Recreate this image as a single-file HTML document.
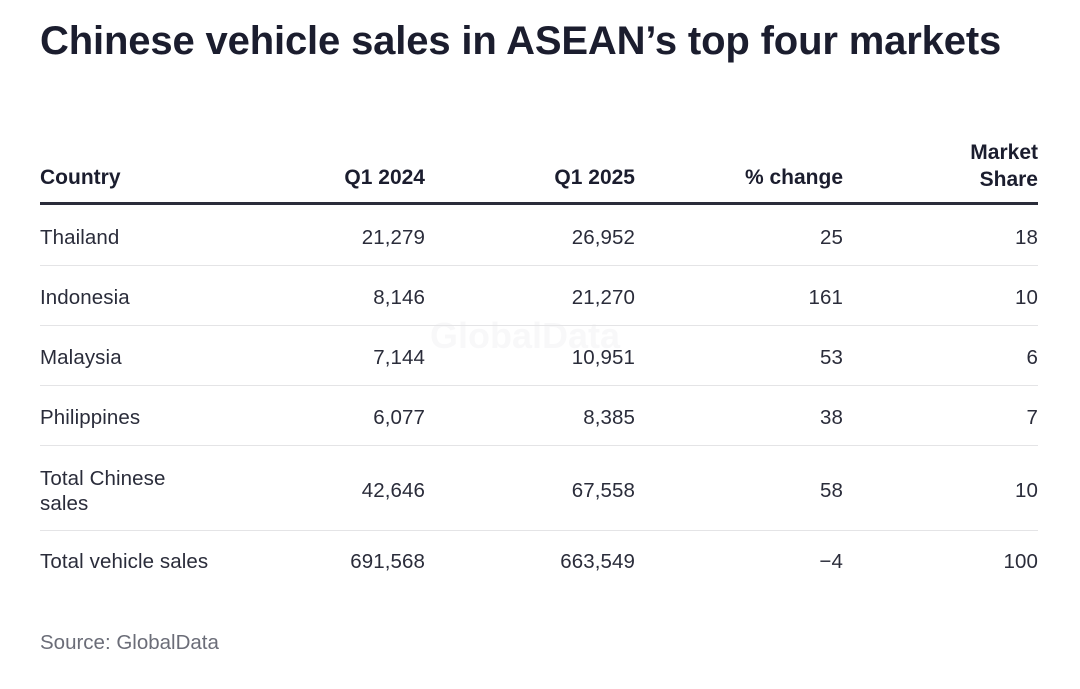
<!DOCTYPE html>
<html><head><meta charset="utf-8"><style>
body{margin:0;width:1080px;height:689px;background:#fff;font-family:"Liberation Sans",sans-serif;color:#1f2233;position:relative;overflow:hidden}
.t{position:absolute;white-space:nowrap}
h1{position:absolute;left:40px;top:19px;margin:0;font-size:40px;font-weight:bold;color:#1b1d2e;letter-spacing:-0.15px}
.h{font-weight:bold;font-size:21px;color:#1b1d2e}
.c{font-size:20.5px;color:#2a2c3a;letter-spacing:0.1px}
.r{text-align:right}
.line{position:absolute;left:40px;width:998px;height:1px;background:#e4e4e6}
</style></head><body>
<div class="t" style="left:430px;top:315px;font-size:36px;font-weight:bold;color:#f8f8f9">GlobalData</div>
<h1>Chinese vehicle sales in ASEAN’s top four markets</h1>
<div>
<div class="t h" style="left:40px;top:166px">Country</div>
<div class="t h r" style="right:655px;top:166px">Q1 2024</div>
<div class="t h r" style="right:445px;top:166px">Q1 2025</div>
<div class="t h r" style="right:237px;top:166px">% change</div>
<div class="t h r" style="right:42px;top:139px;line-height:27px">Market<br>Share</div>
<div style="position:absolute;left:40px;top:202px;width:998px;height:3px;background:#2a2c3a"></div>
<div id="rows"></div>
<div class="t" style="left:40px;top:631px;font-size:20.5px;color:#6b6d78">Source: GlobalData</div>
</div>
<script>
const countries=["Thailand","Indonesia","Malaysia","Philippines","Total Chinese<br>sales","Total vehicle sales"];
const q2024=["21,279","8,146","7,144","6,077","42,646","691,568"];
const q2025=["26,952","21,270","10,951","8,385","67,558","663,549"];
const pct=["25","161","53","38","58","−4"];
const share=["18","10","6","7","10","100"];
const centers=[238,298,358,418,491,562];
const seps=[265,325,385,445,530];
const rows=document.getElementById('rows');
countries.forEach((c,i)=>{
  const y=centers[i]-12;
  const cells=[[c,'left:40px','country'],[q2024[i],'right:655px','q1-2024'],[q2025[i],'right:445px','q1-2025'],[pct[i],'right:237px','pct-change'],[share[i],'right:42px','market-share']];
  cells.forEach((cl,j)=>{
    const d=document.createElement('div');
    d.className='t c'+(j?' r':'');
    const two=j===0&&c.includes('<br>');
    const top=two?centers[i]-25:y;
    d.setAttribute('style',cl[1]+';top:'+top+'px'+(two?';line-height:25px':''));
    d.innerHTML=cl[0];
    
    
    rows.appendChild(d);
  });
});
seps.forEach(s=>{
  const l=document.createElement('div');
  l.className='line';l.style.top=s+'px';
  
  
  rows.appendChild(l);
});
</script>
</body></html>
